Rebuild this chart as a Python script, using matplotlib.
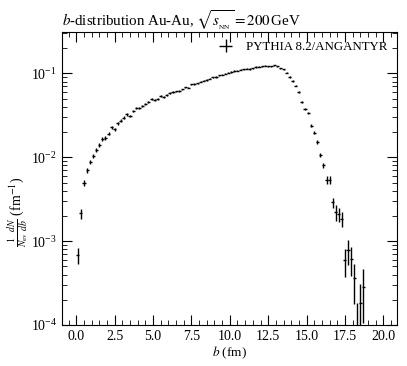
import matplotlib
matplotlib.use("Agg")
import matplotlib.pyplot as plt
import matplotlib.ticker as mticker
import numpy as np

plt.rcParams['font.family'] = 'Liberation Serif'
plt.rcParams['mathtext.fontset'] = 'stix'

# bin centres (fm), bin half width 0.1
b = [0.1, 0.3, 0.5, 0.7, 0.9, 1.1, 1.3, 1.5, 1.7, 1.9,
     2.1, 2.3, 2.5, 2.7, 2.9, 3.1, 3.3, 3.5, 3.7, 3.9,
     4.1, 4.3, 4.5, 4.7, 4.9, 5.1, 5.3, 5.5, 5.7, 5.9,
     6.1, 6.3, 6.5, 6.7, 6.9, 7.1, 7.3, 7.5, 7.7, 7.9,
     8.1, 8.3, 8.5, 8.7, 8.9, 9.1, 9.3, 9.5, 9.7, 9.9,
     10.1, 10.3, 10.5, 10.7, 10.9, 11.1, 11.3, 11.5, 11.7, 11.9,
     12.1, 12.3, 12.5, 12.7, 12.9, 13.1, 13.3, 13.5, 13.7, 13.9,
     14.1, 14.3, 14.5, 14.7, 14.9, 15.1, 15.3, 15.5, 15.7, 15.9,
     16.1, 16.3, 16.5, 16.7, 16.9, 17.1, 17.3, 17.5, 17.7, 17.9,
     18.1, 18.3, 18.5, 18.7]

dndb = [6.8e-4, 2.14e-3, 4.94e-3, 7.0e-3, 8.8e-3, 1.03e-2, 1.21e-2, 1.40e-2, 1.65e-2, 1.70e-2,
        1.91e-2, 2.28e-2, 2.17e-2, 2.54e-2, 2.73e-2, 2.97e-2, 3.25e-2, 3.13e-2, 3.53e-2, 3.86e-2,
        3.83e-2, 4.08e-2, 4.28e-2, 4.55e-2, 4.94e-2, 4.86e-2, 4.90e-2, 5.37e-2, 5.22e-2, 5.52e-2,
        5.84e-2, 6.0e-2, 6.1e-2, 6.2e-2, 6.45e-2, 6.8e-2, 6.76e-2, 7.4e-2, 7.5e-2, 7.6e-2,
        0.080, 0.082, 0.084, 0.0865, 0.0895, 0.091, 0.0946, 0.097, 0.099, 0.102,
        0.104, 0.107, 0.108, 0.111, 0.112, 0.114, 0.113, 0.115, 0.119, 0.120,
        0.121, 0.124, 0.122, 0.122, 0.125, 0.121, 0.115, 0.112, 0.102, 0.091,
        0.081, 0.0717, 0.060, 0.046, 0.0376, 0.0337, 0.0238, 0.0197, 0.0152, 0.0106,
        0.0080, 0.0054, 0.0054, 0.0029, 0.00223, 0.0021, 0.00186, 5.95e-4, 7.8e-4, 6.2e-4,
        3.6e-4, 9.5e-5, 1.84e-4, 2.86e-4]

err = [1.5e-4, 3.0e-4, 4.5e-4, 5.0e-4, 5.5e-4, 6.0e-4, 6.5e-4, 7.0e-4, 7.5e-4, 7.6e-4,
       8.0e-4, 8.7e-4, 8.5e-4, 9.2e-4, 9.6e-4, 1.0e-3, 1.05e-3, 1.03e-3, 1.09e-3, 1.14e-3,
       1.13e-3, 1.17e-3, 1.2e-3, 1.24e-3, 1.29e-3, 1.28e-3, 1.28e-3, 1.34e-3, 1.32e-3, 1.36e-3,
       1.4e-3, 1.42e-3, 1.43e-3, 1.44e-3, 1.47e-3, 1.51e-3, 1.51e-3, 1.58e-3, 1.59e-3, 1.6e-3,
       1.64e-3, 1.66e-3, 1.68e-3, 1.7e-3, 1.73e-3, 1.75e-3, 1.78e-3, 1.8e-3, 1.82e-3, 1.85e-3,
       1.87e-3, 1.9e-3, 1.9e-3, 1.93e-3, 1.94e-3, 1.96e-3, 1.95e-3, 1.97e-3, 2.0e-3, 2.01e-3,
       2.02e-3, 2.04e-3, 2.03e-3, 2.03e-3, 2.05e-3, 2.02e-3, 1.97e-3, 1.94e-3, 1.85e-3, 1.75e-3,
       1.65e-3, 1.55e-3, 1.42e-3, 1.3e-3, 1.2e-3, 1.1e-3, 9.0e-4, 8.0e-4, 7.0e-4, 6.0e-4,
       5.0e-4, 6.0e-4, 6.0e-4, 4.0e-4, 5.0e-4, 4.0e-4, 3.7e-4, 2.2e-4, 2.6e-4, 2.35e-4,
       1.8e-4, 8.7e-5, 1.25e-4, 1.8e-4]

fig = plt.figure(figsize=(4.07, 3.66), dpi=100)
ax = fig.add_axes([0.152, 0.112, 0.823, 0.8])

ax.errorbar(b, dndb, yerr=err, xerr=0.1, fmt='none', ecolor='black',
            elinewidth=1.0, capsize=0, label='PYTHIA 8.2/ANGANTYR')

ax.set_yscale('log')
ax.set_xlim(-0.94, 20.88)
ax.set_ylim(1e-4, 0.31)

ax.xaxis.set_major_locator(mticker.MultipleLocator(2.5))
ax.xaxis.set_minor_locator(mticker.MultipleLocator(0.5))
ax.xaxis.set_major_formatter(mticker.FormatStrFormatter('%.1f'))
ax.yaxis.set_minor_locator(mticker.LogLocator(base=10, subs=np.arange(2, 10)))
ax.yaxis.set_minor_formatter(mticker.NullFormatter())

ax.tick_params(which='both', direction='in', top=True, right=True, labelsize=10)
ax.tick_params(which='major', length=7, width=0.8)
ax.tick_params(which='minor', length=3.5, width=0.6)

ax.set_xlabel('$b$ (fm)', fontsize=9.5, labelpad=1)
ax.set_ylabel(r'$\frac{1}{N_{\rm ev}}\frac{dN}{db}$ (fm$^{-1}$)', fontsize=10)
ax.yaxis.set_label_coords(-0.093, 0.385)
ax.set_title(r'$b$-distribution Au-Au, $\sqrt{s_{_{\rm NN}}} = 200\,$GeV',
             loc='left', fontsize=10.8, pad=0.5)

ax.legend(loc='upper right', frameon=False, fontsize=9.3, handlelength=1.2,
          handletextpad=1.0, borderaxespad=0.3)

fig.savefig('out.png', dpi=100)
